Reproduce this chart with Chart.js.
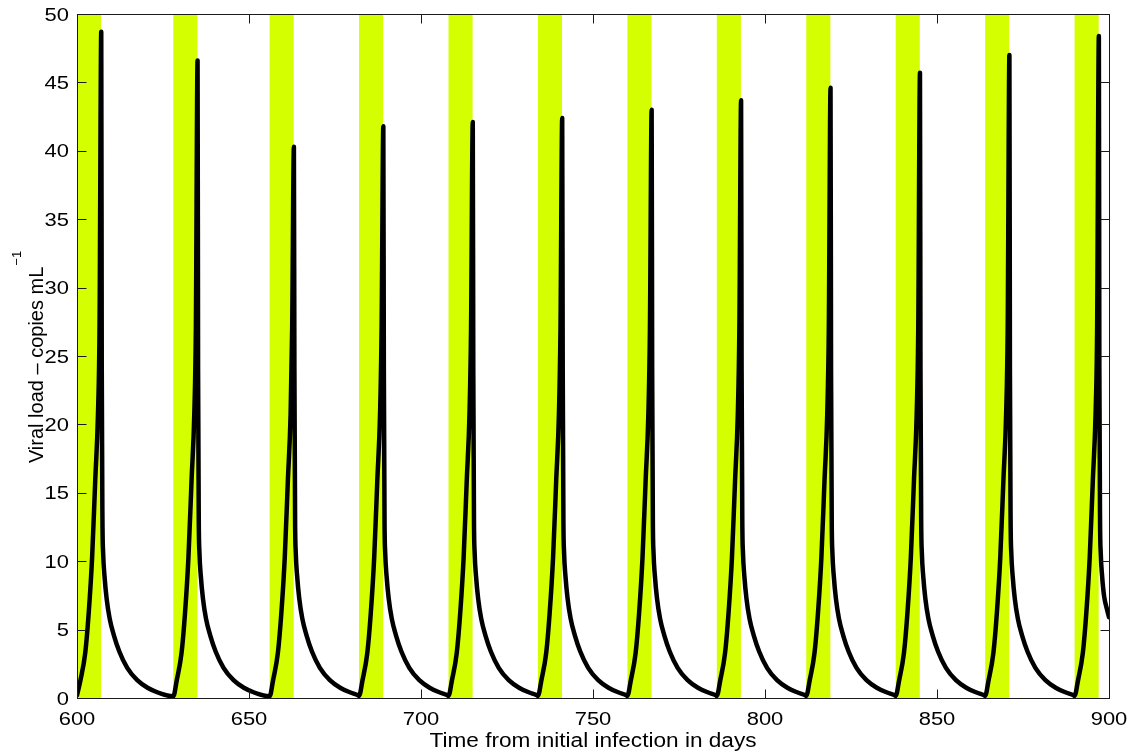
<!DOCTYPE html>
<html>
<head>
<meta charset="utf-8">
<script src="https://cdn.jsdelivr.net/npm/chart.js@4/dist/chart.umd.min.js"></script>
<style>
  html, body { margin:0; padding:0; background:#fff; }
  #wrap { width:1135px; height:751px; position:relative; }
</style>
</head>
<body>
<div id="wrap"><canvas id="c"></canvas></div>
<script>
// viral load under structured treatment interruption, days 600-900

const xTicks = [600, 650, 700, 750, 800, 850, 900];
const yTicks = [0, 5, 10, 15, 20, 25, 30, 35, 40, 45, 50];

// treatment windows (green)
const bandStart = [600, 628, 656, 682, 708, 734, 760, 786, 812, 838, 864, 890];
const bandEnd   = [607, 635, 663, 689, 715, 741, 767, 793, 819, 845, 871, 897];

// curve (one row per cycle)
const days = [
  600, 601, 602.4, 603.4, 604.4, 605.3, 606.1, 606.55, 607.05, 607.2, 607.4, 607.6, 608, 608.6, 609.5, 610.7, 612.3, 614.6, 617.5, 620.5, 623.5, 625.7,
  628, 629, 630.4, 631.4, 632.4, 633.3, 634.1, 634.55, 635.05, 635.2, 635.4, 635.6, 636, 636.6, 637.5, 638.7, 640.3, 642.6, 645.5, 648.5, 651.5, 653.7,
  656, 657, 658.4, 659.4, 660.4, 661.3, 662.1, 662.55, 663.05, 663.2, 663.4, 663.6, 664, 664.6, 665.5, 666.7, 668.3, 670.6, 673.5, 676.5, 679.5, 681.7,
  682, 683, 684.4, 685.4, 686.4, 687.3, 688.1, 688.55, 689.05, 689.2, 689.4, 689.6, 690, 690.6, 691.5, 692.7, 694.3, 696.6, 699.5, 702.5, 705.5, 707.7,
  708, 709, 710.4, 711.4, 712.4, 713.3, 714.1, 714.55, 715.05, 715.2, 715.4, 715.6, 716, 716.6, 717.5, 718.7, 720.3, 722.6, 725.5, 728.5, 731.5, 733.7,
  734, 735, 736.4, 737.4, 738.4, 739.3, 740.1, 740.55, 741.05, 741.2, 741.4, 741.6, 742, 742.6, 743.5, 744.7, 746.3, 748.6, 751.5, 754.5, 757.5, 759.7,
  760, 761, 762.4, 763.4, 764.4, 765.3, 766.1, 766.55, 767.05, 767.2, 767.4, 767.6, 768, 768.6, 769.5, 770.7, 772.3, 774.6, 777.5, 780.5, 783.5, 785.7,
  786, 787, 788.4, 789.4, 790.4, 791.3, 792.1, 792.55, 793.05, 793.2, 793.4, 793.6, 794, 794.6, 795.5, 796.7, 798.3, 800.6, 803.5, 806.5, 809.5, 811.7,
  812, 813, 814.4, 815.4, 816.4, 817.3, 818.1, 818.55, 819.05, 819.2, 819.4, 819.6, 820, 820.6, 821.5, 822.7, 824.3, 826.6, 829.5, 832.5, 835.5, 837.7,
  838, 839, 840.4, 841.4, 842.4, 843.3, 844.1, 844.55, 845.05, 845.2, 845.4, 845.6, 846, 846.6, 847.5, 848.7, 850.3, 852.6, 855.5, 858.5, 861.5, 863.7,
  864, 865, 866.4, 867.4, 868.4, 869.3, 870.1, 870.55, 871.05, 871.2, 871.4, 871.6, 872, 872.6, 873.5, 874.7, 876.3, 878.6, 881.5, 884.5, 887.5, 889.7,
  890, 891, 892.4, 893.4, 894.4, 895.3, 896.1, 896.55, 897.05, 897.2, 897.4, 897.6, 898, 898.6, 899.5, 900
];
const viralLoad = [
  0.2, 1.3, 3.3, 6.2, 10.3, 15.9, 20.8, 27, 48.7, 24, 13, 10.6, 8.9, 7.3, 5.8, 4.6, 3.4, 2.2, 1.3, 0.75, 0.4, 0.22,
  0.12, 1.3, 3.3, 6.2, 10.3, 15.9, 20.8, 27, 46.6, 24, 13, 10.6, 8.9, 7.3, 5.8, 4.6, 3.4, 2.2, 1.3, 0.75, 0.4, 0.22,
  0.12, 1.3, 3.3, 6.2, 10.3, 15.9, 20.8, 27, 40.3, 24, 13, 10.6, 8.9, 7.3, 5.8, 4.6, 3.4, 2.2, 1.3, 0.75, 0.4, 0.2,
  0.15, 1.3, 3.3, 6.2, 10.3, 15.9, 20.8, 27, 41.8, 24, 13, 10.6, 8.9, 7.3, 5.8, 4.6, 3.4, 2.2, 1.3, 0.75, 0.4, 0.2,
  0.15, 1.3, 3.3, 6.2, 10.3, 15.9, 20.8, 27, 42.1, 24, 13, 10.6, 8.9, 7.3, 5.8, 4.6, 3.4, 2.2, 1.3, 0.75, 0.4, 0.2,
  0.15, 1.3, 3.3, 6.2, 10.3, 15.9, 20.8, 27, 42.4, 24, 13, 10.6, 8.9, 7.3, 5.8, 4.6, 3.4, 2.2, 1.3, 0.75, 0.4, 0.2,
  0.15, 1.3, 3.3, 6.2, 10.3, 15.9, 20.8, 27, 43.0, 24, 13, 10.6, 8.9, 7.3, 5.8, 4.6, 3.4, 2.2, 1.3, 0.75, 0.4, 0.2,
  0.15, 1.3, 3.3, 6.2, 10.3, 15.9, 20.8, 27, 43.7, 24, 13, 10.6, 8.9, 7.3, 5.8, 4.6, 3.4, 2.2, 1.3, 0.75, 0.4, 0.2,
  0.15, 1.3, 3.3, 6.2, 10.3, 15.9, 20.8, 27, 44.6, 24, 13, 10.6, 8.9, 7.3, 5.8, 4.6, 3.4, 2.2, 1.3, 0.75, 0.4, 0.2,
  0.15, 1.3, 3.3, 6.2, 10.3, 15.9, 20.8, 27, 45.7, 24, 13, 10.6, 8.9, 7.3, 5.8, 4.6, 3.4, 2.2, 1.3, 0.75, 0.4, 0.2,
  0.15, 1.3, 3.3, 6.2, 10.3, 15.9, 20.8, 27, 47.0, 24, 13, 10.6, 8.9, 7.3, 5.8, 4.6, 3.4, 2.2, 1.3, 0.75, 0.4, 0.2,
  0.15, 1.3, 3.3, 6.2, 10.3, 15.9, 20.8, 27, 48.4, 24, 13, 10.6, 8.9, 7.4, 6.4, 5.9
];

const xTitle = 'Time from initial infection in days';
const yTitle = 'Viral load \u2013 copies mL';
const yTitleSup = '\u22121';

const GREEN = '#d4ff00';
const AXIS = '#1a1a1a';
const FONT = '"Liberation Sans", Arial, Helvetica, sans-serif';

// draw text squeezed/stretched to a given width (matlab export looks wide)
function fitText(ctx, txt, x, y, size, width, align){
  ctx.save();
  ctx.font = size + 'px ' + FONT;
  const w = ctx.measureText(txt).width;
  const sx = width ? width / w : 1;
  ctx.translate(x, y);
  ctx.scale(sx, 1);
  ctx.textBaseline = 'alphabetic';
  ctx.textAlign = align || 'left';
  ctx.fillText(txt, 0, 0);
  ctx.restore();
}

const bandsPlugin = {
  id: 'bands',
  beforeDatasetsDraw(chart){
    const {ctx, chartArea:a, scales:{x}} = chart;
    ctx.save();
    ctx.fillStyle = GREEN;
    for(let i=0;i<bandStart.length;i++){
      const x0 = x.getPixelForValue(bandStart[i]);
      const x1 = x.getPixelForValue(bandEnd[i]);
      ctx.fillRect(x0, a.top, x1-x0, a.bottom-a.top);
    }
    ctx.restore();
  }
};

const framePlugin = {
  id: 'frame',
  afterDatasetsDraw(chart){
    const {ctx, chartArea:a, scales:{x, y}} = chart;
    const L = Math.round(a.left)+0.5, R = Math.round(a.right)+0.5;
    const T = Math.round(a.top)+0.5, B = Math.round(a.bottom)+0.5;
    const tl = 9;
    ctx.save();
    ctx.strokeStyle = AXIS;
    ctx.lineWidth = 1;
    ctx.beginPath();
    xTicks.forEach(v=>{
      const px = Math.round(x.getPixelForValue(v))+0.5;
      ctx.moveTo(px, B); ctx.lineTo(px, B-tl);
      ctx.moveTo(px, T); ctx.lineTo(px, T+tl);
    });
    yTicks.forEach(v=>{
      const py = Math.round(y.getPixelForValue(v))+0.5;
      ctx.moveTo(L, py); ctx.lineTo(L+tl, py);
      ctx.moveTo(R, py); ctx.lineTo(R-tl, py);
    });
    ctx.stroke();
    ctx.strokeRect(L, T, R-L, B-T);
    ctx.restore();
  },
  afterDraw(chart){
    const {ctx, chartArea:a, scales:{x, y}} = chart;
    ctx.save();
    ctx.fillStyle = '#000';
    xTicks.forEach(v=>{
      const px = x.getPixelForValue(v);
      fitText(ctx, String(v), px, a.bottom+27, 17.5, 12.2*String(v).length, 'center');
    });
    yTicks.forEach(v=>{
      const py = y.getPixelForValue(v);
      fitText(ctx, String(v), a.left-8, py+6.5, 17.5, 12.2*String(v).length, 'right');
    });
    fitText(ctx, xTitle, (a.left+a.right)/2, a.bottom+48.5, 19.5, 327, 'center');

    // rotated y title with superscript
    ctx.font = '20px ' + FONT;
    const mainW = ctx.measureText(yTitle).width;
    ctx.font = '13px ' + FONT;
    const supW = ctx.measureText(yTitleSup).width;
    const total = mainW + 1 + supW;
    const cy = (a.top+a.bottom)/2 + 1;
    ctx.translate(43, cy + total/2);
    ctx.rotate(-Math.PI/2);
    ctx.textBaseline = 'alphabetic';
    ctx.textAlign = 'left';
    ctx.font = '20px ' + FONT;
    ctx.fillText(yTitle, 0, 0);
    ctx.font = '13px ' + FONT;
    ctx.fillText(yTitleSup, mainW + 1, -22);
    ctx.restore();
  }
};

new Chart(document.getElementById('c'), {
  type: 'line',
  data: {
    datasets: [{
      label: 'Viral load',
      data: days.map((d,i)=>({x:d, y:viralLoad[i]})),
      borderColor: '#000',
      borderWidth: 4.5,
      pointRadius: 0,
      fill: false,
      cubicInterpolationMode: 'monotone',
      borderJoinStyle: 'round',
      borderCapStyle: 'round'
    }]
  },
  options: {
    responsive: true,
    maintainAspectRatio: false,
    animation: false,
    layout: { padding: { top: 14, right: 26, left: 0, bottom: 0 } },
    plugins: { legend: { display: false }, tooltip: { enabled: false } },
    scales: {
      x: {
        type: 'linear', min: 600, max: 900,
        afterBuildTicks: s => { s.ticks = xTicks.map(v=>({value:v})); },
        afterFit: s => { s.height = 53; },
        ticks: { display: false },
        grid: { display: false },
        border: { display: false }
      },
      y: {
        type: 'linear', min: 0, max: 50,
        afterBuildTicks: s => { s.ticks = yTicks.map(v=>({value:v})); },
        afterFit: s => { s.width = 77; },
        ticks: { display: false },
        grid: { display: false },
        border: { display: false }
      }
    }
  },
  plugins: [bandsPlugin, framePlugin]
});
</script>
</body>
</html>
